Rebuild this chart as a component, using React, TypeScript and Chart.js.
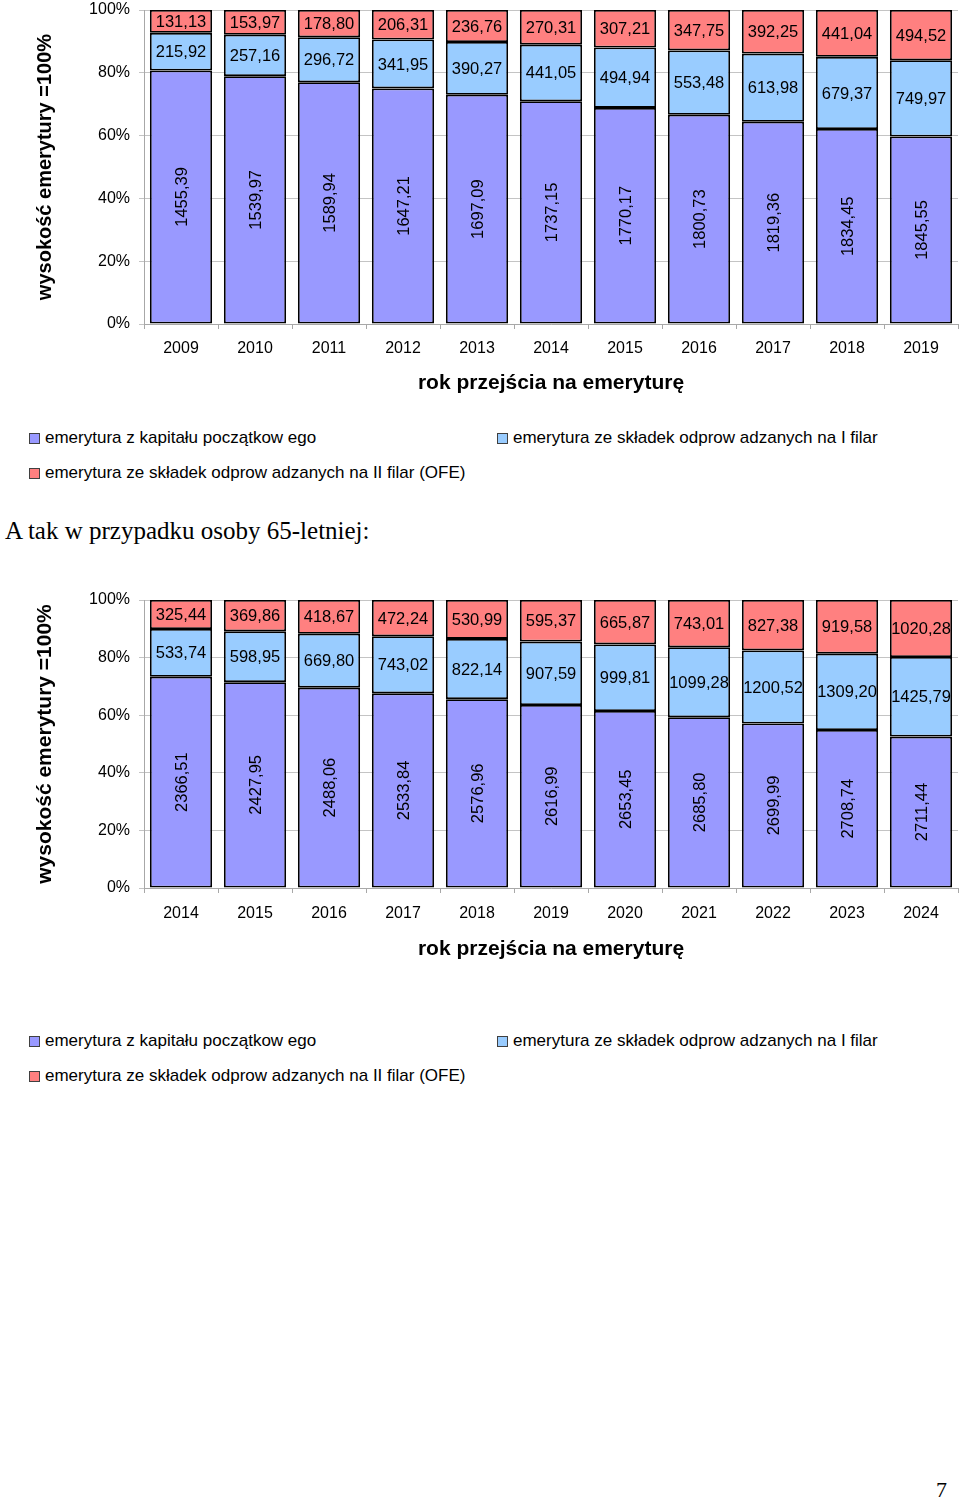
import React, { useEffect, useRef } from 'react';
import { Chart, registerables } from 'chart.js';

Chart.register(...registerables);

// ---- data: chart A (retirement years 2009-2019) ----
const YEARS_A = ['2009', '2010', '2011', '2012', '2013', '2014', '2015', '2016', '2017', '2018', '2019'];
const KAPITAL_A = [1455.39, 1539.97, 1589.94, 1647.21, 1697.09, 1737.15, 1770.17, 1800.73, 1819.36, 1834.45, 1845.55];
const FILAR1_A = [215.92, 257.16, 296.72, 341.95, 390.27, 441.05, 494.94, 553.48, 613.98, 679.37, 749.97];
const OFE_A = [131.13, 153.97, 178.8, 206.31, 236.76, 270.31, 307.21, 347.75, 392.25, 441.04, 494.52];

// ---- data: chart B (65-year-old, 2014-2024) ----
const YEARS_B = ['2014', '2015', '2016', '2017', '2018', '2019', '2020', '2021', '2022', '2023', '2024'];
const KAPITAL_B = [2366.51, 2427.95, 2488.06, 2533.84, 2576.96, 2616.99, 2653.45, 2685.8, 2699.99, 2708.74, 2711.44];
const FILAR1_B = [533.74, 598.95, 669.8, 743.02, 822.14, 907.59, 999.81, 1099.28, 1200.52, 1309.2, 1425.79];
const OFE_B = [325.44, 369.86, 418.67, 472.24, 530.99, 595.37, 665.87, 743.01, 827.38, 919.58, 1020.28];

const Y_TICKS = [0, 20, 40, 60, 80, 100];

const SERIES_NAMES = [
  'emerytura z kapitału początkow ego',
  'emerytura ze składek odprow adzanych na I filar',
  'emerytura ze składek odprow adzanych na II filar (OFE)',
];
const SERIES_COLORS = ['#9999FF', '#99CCFF', '#FF8080'];

const SANS = '"Liberation Sans", Arial, sans-serif';
const SERIF = '"Liberation Serif", "Times New Roman", serif';

const fmt = (v: number) => v.toFixed(2).replace('.', ',');

type BlockProps = {
  years: string[];
  series: number[][];
  top: number;
  height: number;
  plotTop: number;
  plotBottom: number;
  tickPad: number;
  titlePadBottom: number;
  yTitleSize: number;
};

function ChartBlock(p: BlockProps) {
  const ref = useRef<HTMLCanvasElement | null>(null);
  useEffect(() => {
    if (!ref.current) return;
    const totals = p.years.map((_, i) => p.series.reduce((s, arr) => s + arr[i], 0));
    const labelPlugin = {
      id: 'segLabels',
      afterDatasetsDraw(chart: any) {
        const ctx = chart.ctx;
        ctx.save();
        ctx.font = '16.5px ' + SANS;
        ctx.fillStyle = '#000';
        ctx.textAlign = 'center';
        ctx.textBaseline = 'middle';
        chart.data.datasets.forEach((_: any, di: number) => {
          const meta = chart.getDatasetMeta(di);
          meta.data.forEach((el: any, i: number) => {
            const { x, y, base } = el.getProps(['x', 'y', 'base'], true);
            const cy = (y + base) / 2;
            const txt = fmt(p.series[di][i]);
            if (di === 0) {
              ctx.save();
              ctx.translate(x, cy);
              ctx.rotate(-Math.PI / 2);
              ctx.fillText(txt, 0, 1);
              ctx.restore();
            } else {
              ctx.fillText(txt, x, cy + 1);
            }
          });
        });
        ctx.restore();
      },
    };
    const chart = new Chart(ref.current, {
      type: 'bar',
      data: {
        labels: p.years,
        datasets: p.series.map((arr, di) => ({
          label: SERIES_NAMES[di],
          data: arr.map((v, i) => (v / totals[i]) * 100),
          backgroundColor: SERIES_COLORS[di],
          borderColor: '#000',
          borderWidth: 1.8,
          borderSkipped: false,
          barPercentage: 0.84,
          categoryPercentage: 1,
        })),
      },
      options: {
        animation: false,
        responsive: false,
        maintainAspectRatio: false,
        layout: { padding: { top: p.plotTop, right: 2, bottom: 0, left: 0 } },
        plugins: { legend: { display: false }, tooltip: { enabled: false } },
        scales: {
          x: {
            stacked: true,
            offset: true,
            grid: { drawOnChartArea: false, tickLength: 5, color: '#a8a8a8', offset: true },
            border: { color: '#a8a8a8' },
            ticks: { font: { family: SANS, size: 16 }, color: '#000', padding: p.tickPad, maxRotation: 0, autoSkip: false },
            title: {
              display: true,
              text: 'rok przejścia na emeryturę',
              font: { family: SANS, size: 21, weight: 'bold' },
              color: '#000',
              padding: { top: 0, bottom: p.titlePadBottom },
            },
            afterFit: (s: any) => {
              s.height = p.height - p.plotBottom;
            },
          },
          y: {
            stacked: true,
            min: 0,
            max: 100,
            afterBuildTicks: (s: any) => {
              s.ticks = Y_TICKS.map((v) => ({ value: v }));
            },
            ticks: {
              font: { family: SANS, size: 16 },
              color: '#000',
              padding: 9,
              callback: (v: any) => v + '%',
            },
            grid: { color: '#c4c4c4', tickLength: 5 },
            border: { color: '#a8a8a8' },
            title: {
              display: true,
              text: 'wysokość emerytury =100%',
              font: { family: SANS, size: p.yTitleSize, weight: 'bold' },
              color: '#000',
              padding: { top: 45 - (p.yTitleSize * 1.2) / 2, bottom: 0 },
            },
            afterFit: (s: any) => {
              s.width = 144;
            },
          },
        },
      },
      plugins: [labelPlugin],
    } as any);
    return () => chart.destroy();
  }, []);
  return (
    <canvas
      ref={ref}
      width={960}
      height={p.height}
      style={{ position: 'absolute', left: 0, top: p.top, width: 960, height: p.height }}
    />
  );
}

function Legend({ top }: { top: number }) {
  const item = (i: number, left: number, rowTop: number) => (
    <div
      key={i}
      style={{
        position: 'absolute',
        left,
        top: rowTop,
        height: 20,
        display: 'flex',
        alignItems: 'center',
        fontFamily: SANS,
        fontSize: 17,
        color: '#000',
        whiteSpace: 'pre',
      }}
    >
      <span
        style={{
          display: 'inline-block',
          width: 9,
          height: 9,
          background: SERIES_COLORS[i],
          border: '1px solid #404040',
          marginRight: 5,
        }}
      />
      {SERIES_NAMES[i]}
    </div>
  );
  return (
    <>
      {item(0, 29, top - 9)}
      {item(1, 497, top - 9)}
      {item(2, 29, top + 35 - 9)}
    </>
  );
}

export default function App() {
  return (
    <div style={{ position: 'absolute', left: 0, top: 0, width: 960, height: 1500, background: '#fff', overflow: 'hidden' }}>
      <ChartBlock
        years={YEARS_A}
        series={[KAPITAL_A, FILAR1_A, OFE_A]}
        top={-10}
        height={410}
        plotTop={20}
        plotBottom={334}
        tickPad={10}
        titlePadBottom={4.4}
        yTitleSize={20}
      />
      <Legend top={437} />
      <div
        style={{
          position: 'absolute',
          left: 5,
          top: 516,
          fontFamily: SERIF,
          fontSize: 25,
          lineHeight: '29px',
          color: '#000',
          whiteSpace: 'pre',
        }}
      >
        A tak w przypadku osoby 65-letniej:
      </div>
      <ChartBlock
        years={YEARS_B}
        series={[KAPITAL_B, FILAR1_B, OFE_B]}
        top={580}
        height={400}
        plotTop={20}
        plotBottom={308}
        tickPad={11}
        titlePadBottom={18.4}
        yTitleSize={21}
      />
      <Legend top={1040} />
      <div
        style={{
          position: 'absolute',
          left: 936,
          top: 1477,
          fontFamily: SERIF,
          fontSize: 22,
          lineHeight: '26px',
          color: '#000',
        }}
      >
        7
      </div>
    </div>
  );
}
